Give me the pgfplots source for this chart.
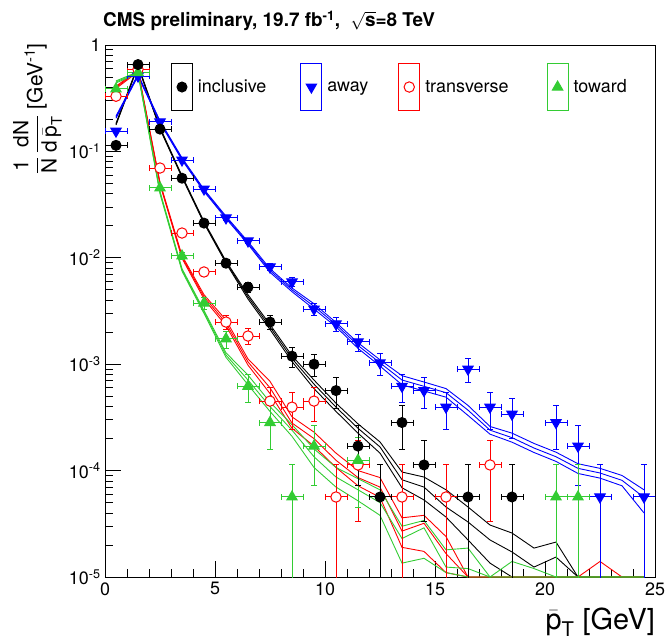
\documentclass[border=0pt]{standalone}
\usepackage{pgfplots}
\pgfplotsset{compat=1.18}
\usepackage{pgfplotstable}
\usepackage{amsmath}
\usepackage{fontspec}
\setmainfont{TeX Gyre Heros}
\definecolor{rgreen}{RGB}{51,204,51}
\definecolor{rblue}{RGB}{0,0,255}
\definecolor{rred}{RGB}{255,0,0}

% data: x y err+ err-
\pgfplotstableread{
x y ep em
0.5 0.114 0.0025 0.0025
1.5 0.655 0.0061 0.0061
2.5 0.162 0.0030 0.0030
3.5 0.056 0.0018 0.0018
4.5 0.0212 0.0011 0.0011
5.5 0.0089 0.00071 0.00071
6.5 0.0053 0.00055 0.00055
7.5 0.00249 0.00037 0.00037
8.5 0.00119 0.00026 0.00026
9.5 0.00100 0.00024 0.00024
10.5 0.000565 0.000179 0.000179
11.5 0.000170 0.000098 0.000098
12.5 0.0000565 0.0000565 0.0000564
13.5 0.000283 0.000126 0.000126
14.5 0.000113 0.000080 0.000080
16.5 0.0000565 0.0000565 0.0000564
18.5 0.0000565 0.0000565 0.0000564
}\incdata
\pgfplotstableread{
x y ep em
0.5 0.155 0.0029 0.0029
1.5 0.51 0.0053 0.0053
2.5 0.189 0.0033 0.0033
3.5 0.083 0.0022 0.0022
4.5 0.0443 0.0016 0.0016
5.5 0.0237 0.0012 0.0012
6.5 0.0144 0.0009 0.0009
7.5 0.0082 0.00068 0.00068
8.5 0.00593 0.00058 0.00058
9.5 0.0033 0.00043 0.00043
10.5 0.00239 0.00037 0.00037
11.5 0.00162 0.00030 0.00030
12.5 0.00103 0.00024 0.00024
13.5 0.00062 0.000187 0.000187
14.5 0.000565 0.000179 0.000179
15.5 0.000395 0.000150 0.000150
16.5 0.00090 0.000226 0.000226
17.5 0.000395 0.000150 0.000150
18.5 0.000339 0.000138 0.000138
20.5 0.000283 0.000126 0.000126
21.5 0.000170 0.000098 0.000098
22.5 0.0000565 0.0000565 0.0000564
24.5 0.0000565 0.0000565 0.0000564
}\awydata
\pgfplotstableread{
x y ep em
0.5 0.33 0.0043 0.0043
1.5 0.59 0.0058 0.0058
2.5 0.0698 0.0020 0.0020
3.5 0.0171 0.00098 0.00098
4.5 0.00736 0.00064 0.00064
5.5 0.00249 0.00037 0.00037
6.5 0.00184 0.00032 0.00032
7.5 0.00045 0.00016 0.00016
8.5 0.000395 0.00015 0.00015
9.5 0.00045 0.00016 0.00016
10.5 0.0000565 0.0000565 0.0000564
11.5 0.000113 0.00008 0.00008
13.5 0.0000565 0.0000565 0.0000564
15.5 0.0000565 0.0000565 0.0000564
17.5 0.000113 0.00008 0.00008
}\trndata
\pgfplotstableread{
x y ep em
0.5 0.386 0.0047 0.0047
1.5 0.55 0.0056 0.0056
2.5 0.0453 0.0016 0.0016
3.5 0.0104 0.00077 0.00077
4.5 0.00376 0.00046 0.00046
5.5 0.00173 0.00031 0.00031
6.5 0.00062 0.000187 0.000187
7.5 0.000283 0.000126 0.000126
8.5 0.0000565 0.0000565 0.0000564
9.5 0.000170 0.000098 0.000098
11.5 0.000125 0.00008 0.00008
20.5 0.0000565 0.0000565 0.0000564
21.5 0.0000565 0.0000565 0.0000564
}\towdata

% simulation bands: x lo mid hi
\pgfplotstableread{
x lo mid hi
0.5 0.177 0.18 0.183
1.5 0.63 0.64 0.65
2.5 0.162 0.165 0.168
3.5 0.057 0.058 0.059
4.5 0.0211 0.0215 0.0219
5.5 0.0089 0.0091 0.0093
6.5 0.0041 0.0043 0.0045
7.5 0.00212 0.00224 0.00236
8.5 0.00106 0.00113 0.00120
9.5 0.00059 0.00065 0.00071
10.5 0.00036 0.000395 0.00043
11.5 0.000225 0.00025 0.000275
12.5 0.000146 0.000167 0.000186
13.5 0.000069 0.000082 0.000097
14.5 0.000053 0.000070 0.000087
15.5 0.0000366 0.0000455 0.000066
16.5 0.0000223 0.0000329 0.0000455
17.5 0.0000135 0.0000223 0.0000308
18.5 0.00001 0.0000172 0.0000259
19.5 0.00001 0.0000124 0.0000187
20.5 0.00001 0.0000154 0.0000213
21.5 0.00001 0.00001 0.00001
22.5 0.00001 0.00001 0.00001
23.5 0.00001 0.00001 0.00001
24.5 0.00001 0.00001 0.00001
}\incmc
\pgfplotstableread{
x lo mid hi
0.5 0.205 0.21 0.215
1.5 0.51 0.52 0.53
2.5 0.186 0.19 0.194
3.5 0.083 0.085 0.087
4.5 0.042 0.043 0.044
5.5 0.0234 0.024 0.0246
6.5 0.0134 0.0138 0.0142
7.5 0.0073 0.0076 0.0079
8.5 0.0048 0.0050 0.0052
9.5 0.0033 0.0035 0.0037
10.5 0.00225 0.00236 0.00247
11.5 0.00141 0.0015 0.00159
12.5 0.00096 0.00103 0.00110
13.5 0.00064 0.00071 0.00078
14.5 0.00056 0.00062 0.00068
15.5 0.00049 0.00054 0.00059
16.5 0.00033 0.00037 0.00041
17.5 0.00022 0.00024 0.00026
18.5 0.000185 0.000204 0.000225
19.5 0.000148 0.000163 0.00018
20.5 0.000122 0.000135 0.000149
21.5 0.000094 0.000105 0.000116
22.5 0.000085 0.000095 0.000105
23.5 0.000072 0.000081 0.00009
24.5 0.00004 0.000056 0.000066
}\awymc
\pgfplotstableread{
x lo mid hi
0.5 0.39 0.40 0.41
1.5 0.56 0.57 0.58
2.5 0.049 0.050 0.051
3.5 0.0099 0.0102 0.0105
4.5 0.0041 0.0043 0.0045
5.5 0.0023 0.00244 0.0026
6.5 0.00098 0.00105 0.00112
7.5 0.00053 0.00060 0.00069
8.5 0.00025 0.00028 0.00032
9.5 0.00017 0.00020 0.00023
10.5 0.000107 0.000125 0.000146
11.5 0.000072 0.000086 0.0001
12.5 0.000056 0.00007 0.000086
13.5 0.000019 0.000027 0.000036
14.5 0.0000174 0.000032 0.000038
15.5 0.000011 0.0000166 0.000024
16.5 0.00001 0.00001 0.00001
17.5 0.00001 0.00001 0.00001
18.5 0.00001 0.00001 0.00001
19.5 0.00001 0.00001 0.00001
20.5 0.00001 0.00001 0.00001
21.5 0.00001 0.00001 0.00001
22.5 0.00001 0.00001 0.000014
23.5 0.00001 0.00001 0.00001
24.5 0.00001 0.00001 0.00001
}\trnmc
\pgfplotstableread{
x lo mid hi
0.5 0.44 0.45 0.46
1.5 0.54 0.55 0.56
2.5 0.040 0.041 0.042
3.5 0.0075 0.0077 0.0079
4.5 0.0030 0.0031 0.0032
5.5 0.00116 0.00122 0.00128
6.5 0.00064 0.00071 0.00079
7.5 0.00036 0.00040 0.00044
8.5 0.00021 0.00024 0.00027
9.5 0.000107 0.000135 0.00016
10.5 0.00007 0.000087 0.000107
11.5 0.000052 0.000066 0.000084
12.5 0.000038 0.00005 0.000066
13.5 0.0000135 0.000023 0.00003
14.5 0.000015 0.000029 0.000034
15.5 0.000011 0.0000124 0.000018
16.5 0.00001 0.000012 0.0000187
17.5 0.00001 0.00001 0.00001
18.5 0.00001 0.00001 0.000014
19.5 0.00001 0.00001 0.000012
20.5 0.00001 0.00001 0.00001
21.5 0.00001 0.00001 0.00001
22.5 0.00001 0.00001 0.00001
23.5 0.00001 0.00001 0.00001
24.5 0.00001 0.00001 0.00001
}\towmc

\pgfplotsset{
  legbox/.style={legend image code/.code={%
    \path (-#1,0bp) (26bp,0bp);
    \draw[##1,line width=0.9pt,fill=none] (0bp,-23.5bp) rectangle (21bp,23.5bp);
    \draw[##1] plot coordinates {(10.5bp,0bp)};}},
  errs/.style={only marks, mark=none, line width=1pt, forget plot,
    error bars/.cd, x dir=both, x fixed=0.5, y dir=both, y explicit},
  mkinc/.style={black, only marks, mark=*, mark size=5bp, line width=1pt},
  mkawy/.style={rblue, only marks, mark=triangle*, mark size=6bp, mark options={rotate=180}, line width=1pt},
  mktrn/.style={rred, only marks, mark=*, mark size=5.2bp, mark options={fill=white, draw=rred, line width=1pt}, line width=1pt},
  mktow/.style={rgreen, only marks, mark=triangle*, mark size=6bp, line width=1pt},
}

\begin{document}
\begin{tikzpicture}
\useasboundingbox (0,0) rectangle (667bp,644bp);
\begin{axis}[
  at={(105bp,67bp)}, anchor=south west,
  width=550bp, height=532bp, scale only axis,
  xmin=0, xmax=25, ymin=1e-5, ymax=1,
  ymode=log, log basis y=10,
  xtick={0,5,10,15,20,25}, xticklabels={0,5,10,15,20,25},
  minor x tick num=4,
  ytick={1e-5,1e-4,1e-3,1e-2,1e-1,1},
  yticklabels={10\textsuperscript{-5},10\textsuperscript{-4},10\textsuperscript{-3},10\textsuperscript{-2},10\textsuperscript{-1},1},
  minor ytick={2e-5,3e-5,4e-5,5e-5,6e-5,7e-5,8e-5,9e-5,2e-4,3e-4,4e-4,5e-4,6e-4,7e-4,8e-4,9e-4,2e-3,3e-3,4e-3,5e-3,6e-3,7e-3,8e-3,9e-3,2e-2,3e-2,4e-2,5e-2,6e-2,7e-2,8e-2,9e-2,0.2,0.3,0.4,0.5,0.6,0.7,0.8,0.9},
  tick align=inside, tick pos=left,
  major tick length=16bp, minor tick length=8bp,
  tick style={black, line width=0.8pt},
  axis line style={line width=1pt},
  ticklabel style={font=\fontsize{18}{18}\selectfont},
  yticklabel style={xshift=-1bp},
  xticklabel style={yshift=-2bp},
  legend columns=4,
  legend style={at={(rel axis cs:0.12,0.921)}, anchor=west, draw=none, fill=none,
    inner sep=0pt, outer sep=0pt, column sep=0pt, font=\fontsize{18}{18}\selectfont,
    nodes={inner sep=0pt}},
  legend cell align=left,
  error bars/error bar style={line width=1pt},
  error bars/error mark options={line width=1pt, mark size=3bp, rotate=90},
]
% simulation lines
\addplot[black, line width=0.9pt, forget plot] table[x=x,y=lo]{\incmc};
\addplot[black, line width=0.9pt, forget plot] table[x=x,y=mid]{\incmc};
\addplot[black, line width=0.9pt, forget plot] table[x=x,y=hi]{\incmc};
\addplot[rblue, line width=0.9pt, forget plot] table[x=x,y=lo]{\awymc};
\addplot[rblue, line width=0.9pt, forget plot] table[x=x,y=mid]{\awymc};
\addplot[rblue, line width=0.9pt, forget plot] table[x=x,y=hi]{\awymc};
\addplot[rred, line width=0.9pt, forget plot] table[x=x,y=lo]{\trnmc};
\addplot[rred, line width=0.9pt, forget plot] table[x=x,y=mid]{\trnmc};
\addplot[rred, line width=0.9pt, forget plot] table[x=x,y=hi]{\trnmc};
\addplot[rgreen, line width=0.9pt, forget plot] table[x=x,y=lo]{\towmc};
\addplot[rgreen, line width=0.9pt, forget plot] table[x=x,y=mid]{\towmc};
\addplot[rgreen, line width=0.9pt, forget plot] table[x=x,y=hi]{\towmc};
% data error bars
\addplot[rblue, errs] table[x=x, y=y, y error plus=ep, y error minus=em]{\awydata};
\addplot[rred, errs] table[x=x, y=y, y error plus=ep, y error minus=em]{\trndata};
\addplot[rgreen, errs] table[x=x, y=y, y error plus=ep, y error minus=em]{\towdata};
\addplot[black, errs] table[x=x, y=y, y error plus=ep, y error minus=em]{\incdata};
% data markers
\addplot[mkawy, forget plot] table[x=x, y=y]{\awydata};
\addplot[mktrn, forget plot] table[x=x, y=y]{\trndata};
\addplot[mktow, forget plot] table[x=x, y=y]{\towdata};
\addplot[mkinc, forget plot] table[x=x, y=y]{\incdata};
% legend
\addlegendimage{mkinc, legbox=0bp}
\addlegendentry{inclusive}
\addlegendimage{mkawy, legbox=34bp}
\addlegendentry{away}
\addlegendimage{mktrn, legbox=30bp}
\addlegendentry{transverse}
\addlegendimage{mktow, legbox=38bp}
\addlegendentry{toward}
\end{axis}
\node[anchor=base west, font=\bfseries\fontsize{19}{19}\selectfont, inner sep=0pt] at (103bp,617bp)
  {CMS preliminary, 19.7 fb\textsuperscript{-1}, \ $\sqrt{\text{\bfseries s}}$=8 TeV};
\node[rotate=90, anchor=north east, font=\fontsize{21}{21}\selectfont, inner sep=0pt] at (13bp,601bp)
  {$\dfrac{\text{1}}{\text{N}}\,\dfrac{\text{dN}}{\text{d}\,\bar{\text{p}}_{\text{T}}}$ [GeV\textsuperscript{-1}]};
\node[anchor=base east, font=\fontsize{29}{29}\selectfont, inner sep=0pt] at (655bp,15bp)
  {$\bar{\text{p}}_{\text{T}}$ [GeV]};
\end{tikzpicture}
\end{document}
